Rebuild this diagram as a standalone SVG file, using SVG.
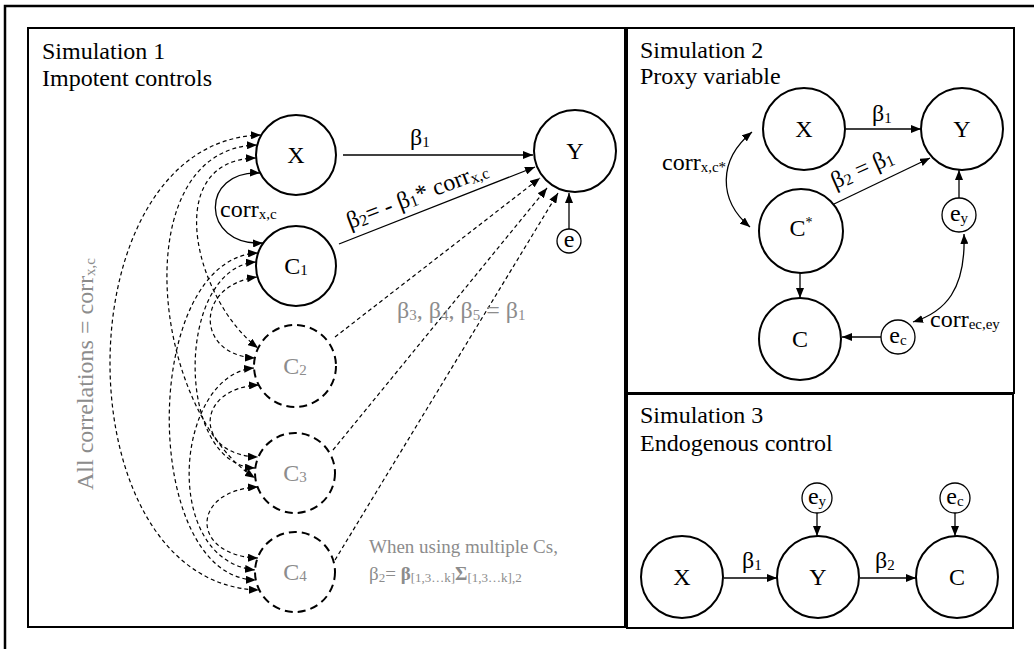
<svg xmlns="http://www.w3.org/2000/svg" width="1034" height="649" viewBox="0 0 1034 649">
<defs>
<style>
.frame{fill:none;stroke:#000;stroke-width:2.5}
.box{fill:none;stroke:#000;stroke-width:2}
.node{fill:#fff;stroke:#000;stroke-width:2}
.dnode{fill:#fff;stroke:#000;stroke-width:2;stroke-dasharray:8 5}
.enode{fill:#fff;stroke:#000;stroke-width:1.3}
text{font-family:"Liberation Serif","Times New Roman",serif;font-size:24px;fill:#000}
.g{fill:#8c8c8c}
.sm{font-size:19px}
.mid{text-anchor:middle}
.ln{fill:none;stroke:#000;stroke-width:1.3}
.dl{fill:none;stroke:#000;stroke-width:1.2;stroke-dasharray:4 3}
.ar{marker-end:url(#ah)}
.ar2{marker-start:url(#ah);marker-end:url(#ah)}
</style>
<marker id="ah" viewBox="0 0 10 8" refX="10" refY="4" markerWidth="10" markerHeight="8" markerUnits="userSpaceOnUse" orient="auto-start-reverse">
<path d="M0,0 L10,4 L0,8 z" fill="#000"/>
</marker>
</defs>

<g id="frames">
<path class="frame" d="M5,649 V6 H1034"/>
<rect class="box" x="28" y="28" width="597" height="599"/>
<rect class="box" x="627" y="28" width="387" height="365"/>
<rect class="box" x="627" y="394" width="386" height="234"/>
</g>

<g id="titles">
<text x="42" y="59">Simulation 1</text>
<text x="42" y="86">Impotent controls</text>
<text x="640" y="58">Simulation 2</text>
<text x="640" y="84">Proxy variable</text>
<text x="640" y="423">Simulation 3</text>
<text x="640" y="451">Endogenous control</text>
</g>

<!-- Simulation 1 nodes -->
<g id="s1-x"><circle class="node" cx="296" cy="155" r="40"/><text class="mid" x="296" y="163">X</text></g>
<g id="s1-c1"><circle class="node" cx="296" cy="266" r="40"/><text class="mid" x="296" y="274">C<tspan font-size="15" dy="1">1</tspan></text></g>
<g id="s1-c2"><circle class="dnode" cx="295" cy="366" r="41"/><text class="mid g" x="295" y="374">C<tspan font-size="15" dy="1">2</tspan></text></g>
<g id="s1-c3"><circle class="dnode" cx="295" cy="473" r="40"/><text class="mid g" x="295" y="481">C<tspan font-size="15" dy="1">3</tspan></text></g>
<g id="s1-c4"><circle class="dnode" cx="295" cy="572" r="40"/><text class="mid g" x="295" y="580">C<tspan font-size="15" dy="1">4</tspan></text></g>
<g id="s1-y"><circle class="node" cx="575" cy="151" r="41"/><text class="mid" x="575" y="159">Y</text></g>
<g id="s1-e"><circle class="enode" cx="569" cy="241" r="12"/><text class="mid" x="569" y="247" font-size="20">e</text></g>

<!-- Simulation 2 nodes -->
<g id="s2-x"><circle class="node" cx="804" cy="129" r="41"/><text class="mid" x="804" y="137">X</text></g>
<g id="s2-y"><circle class="node" cx="962" cy="129" r="41"/><text class="mid" x="962" y="137">Y</text></g>
<g id="s2-cstar"><circle class="node" cx="801" cy="231" r="42"/><text class="mid" x="801" y="236">C<tspan font-size="14" dy="-9">*</tspan></text></g>
<g id="s2-c"><circle class="node" cx="800" cy="339" r="41"/><text class="mid" x="800" y="347">C</text></g>
<g id="s2-ey"><circle class="enode" cx="959" cy="215" r="17"/><text class="mid" x="959" y="221">e<tspan font-size="15" dy="2">y</tspan></text></g>
<g id="s2-ec"><circle class="enode" cx="898" cy="337" r="17"/><text class="mid" x="898" y="343">e<tspan font-size="15" dy="2">c</tspan></text></g>

<!-- Simulation 3 nodes -->
<g id="s3-x"><circle class="node" cx="682" cy="577" r="41"/><text class="mid" x="682" y="585">X</text></g>
<g id="s3-y"><circle class="node" cx="818" cy="577" r="41"/><text class="mid" x="818" y="585">Y</text></g>
<g id="s3-c"><circle class="node" cx="957" cy="577" r="41"/><text class="mid" x="957" y="585">C</text></g>
<g id="s3-ey"><circle class="enode" cx="817" cy="498" r="15"/><text class="mid" x="817" y="504">e<tspan font-size="15" dy="2">y</tspan></text></g>
<g id="s3-ec"><circle class="enode" cx="955" cy="498" r="15"/><text class="mid" x="955" y="504">e<tspan font-size="15" dy="2">c</tspan></text></g>

<g id="connectors">
<!-- Sim 1 paths -->
<path class="ln ar" d="M343,155 H533"/>
<path class="ln ar" d="M339,244 L535,167"/>
<path class="dl ar" d="M335,337 L540,178"/>
<path class="dl ar" d="M333,450 L547,188"/>
<path class="dl ar" d="M335,560 L558,193"/>
<path class="ln ar" d="M569,229 V193"/>
<!-- correlations -->
<path class="ln ar2" d="M260,173 C200,170 200,246 263,243"/>
<path class="dl ar2" d="M256,158 C160,160 195,300 258,348"/>
<path class="dl ar2" d="M257,145 C125,148 150,410 255,478"/>
<path class="dl ar2" d="M261,135 C60,140 60,585 259,590"/>
<path class="dl ar2" d="M257,277 C195,285 195,355 255,358"/>
<path class="dl ar2" d="M256,262 C175,268 175,465 255,468"/>
<path class="dl ar2" d="M258,253 C140,258 140,578 256,580"/>
<path class="dl ar2" d="M259,385 C194,388 194,455 258,457"/>
<path class="dl ar2" d="M254,368 C175,375 160,560 255,570"/>
<path class="dl ar2" d="M258,487 C190,490 190,556 258,558"/>
<!-- Sim 2 -->
<path class="ln ar" d="M846,129 H921"/>
<path class="ln ar" d="M834,204 L930,158"/>
<path class="ln ar" d="M800,273 V298"/>
<path class="ln ar" d="M959,198 V170"/>
<path class="ln ar" d="M881,337 H842"/>
<path class="ln ar2" d="M964,234 C966,290 945,312 913,322"/>
<path class="ln ar2" d="M752,132 C718,160 718,200 750,227"/>
<!-- Sim 3 -->
<path class="ln ar" d="M724,578 H777"/>
<path class="ln ar" d="M860,578 H916"/>
<path class="ln ar" d="M817,513 V536"/>
<path class="ln ar" d="M955,513 V536"/>
</g>

<g id="labels">
<text x="410" y="145">β<tspan font-size="15" dy="2">1</tspan></text>
<text x="220" y="217">corr<tspan font-size="15" dy="2">x,c</tspan></text>
<text transform="translate(350,229) rotate(-21)" font-size="26">β<tspan font-size="16" dy="2">2</tspan><tspan dy="-2">= - β</tspan><tspan font-size="16" dy="2">1</tspan><tspan dy="-2">* corr</tspan><tspan font-size="16" dy="2">x,c</tspan></text>
<text class="g" x="397" y="318">β<tspan font-size="15" dy="2">3</tspan><tspan dy="-2">, β</tspan><tspan font-size="15" dy="2">4</tspan><tspan dy="-2">, β</tspan><tspan font-size="15" dy="2">5</tspan><tspan dy="-2"> = β</tspan><tspan font-size="15" dy="2">1</tspan></text>
<text class="g" transform="translate(93,490) rotate(-90)">All correlations = corr<tspan font-size="15" dy="2">x,c</tspan></text>
<text class="g sm" x="369" y="553">When using multiple Cs,</text>
<text class="g sm" x="369" y="580">β<tspan font-size="13" dy="2">2</tspan><tspan dy="-2">= </tspan><tspan font-weight="bold">β</tspan><tspan font-size="13" dy="2">[1,3…k]</tspan><tspan dy="-2" font-weight="bold">Σ</tspan><tspan font-size="13" dy="2">[1,3…k],2</tspan></text>

<text x="872" y="121">β<tspan font-size="15" dy="2">1</tspan></text>
<text transform="translate(835,189) rotate(-24)" font-size="25">β<tspan font-size="16" dy="2">2</tspan><tspan dy="-2"> = β</tspan><tspan font-size="16" dy="2">1</tspan></text>
<text x="662" y="170">corr<tspan font-size="15" dy="2">x,c*</tspan></text>
<text x="930" y="327">corr<tspan font-size="15" dy="2">ec,ey</tspan></text>

<text x="742" y="568">β<tspan font-size="15" dy="2">1</tspan></text>
<text x="875" y="568">β<tspan font-size="15" dy="2">2</tspan></text>
</g>
</svg>
